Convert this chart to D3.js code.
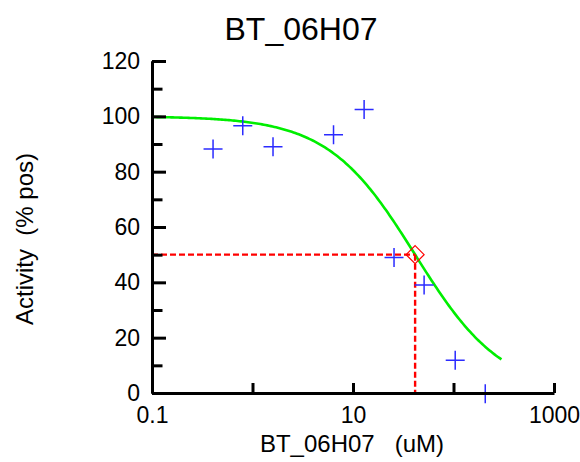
<!DOCTYPE html>
<html>
<head>
<meta charset="utf-8">
<script src="https://cdn.jsdelivr.net/npm/d3@7"></script>
<style>
  body { margin: 0; background: #fff; }
  svg { display: block; font-family: "Liberation Sans", Arial, sans-serif; }
</style>
</head>
<body>
<div id="chart"></div>
<script>
// measured doses (uM) and activity (% pos)
const doses = [0.405, 0.8, 1.6, 6.4, 12.9, 25.6, 51, 104, 207]
const activity = [88.2, 96.6, 89, 93.3, 102.5, 49, 39, 11.8, -0.3]

// fitted curve params
const fitTop = 100
const fitBottom = 0
const ic50 = 41.5
const hill = 1
const curveRange = [0.1, 300]

const xTicks = [0.1, 1, 10, 100, 1000]
const xTickLabels = ["0.1", "", "10", "", "1000"]
const yMajorTicks = [0, 20, 40, 60, 80, 100, 120]
const yMinorTicks = [10, 30, 50, 70, 90, 110]

const width = 580
const height = 462

const x = d3.scaleLog().domain([0.1, 1000]).range([152, 554])
const y = d3.scaleLinear().domain([0, 120]).range([393, 61])

const svg = d3.select("#chart").append("svg")
  .attr("width", width)
  .attr("height", height)

svg.append("rect").attr("width", width).attr("height", height).attr("fill", "#fff")

function hillFn(c) {
  return fitBottom + (fitTop - fitBottom) / (1 + Math.pow(c / ic50, hill))
}

// fitted curve
const curvePts = d3.range(0, 201).map(i => {
  const lc = Math.log10(curveRange[0]) + i / 200 * (Math.log10(curveRange[1]) - Math.log10(curveRange[0]))
  const c = Math.pow(10, lc)
  return [c, hillFn(c)]
})

svg.append("path")
  .datum(curvePts)
  .attr("fill", "none")
  .attr("stroke", "#00ee00")
  .attr("stroke-width", 2.6)
  .attr("d", d3.line().x(d => x(d[0])).y(d => y(d[1])))

// IC50 guide lines
const dash = svg.append("g")
  .attr("stroke", "#ff0000")
  .attr("stroke-width", 2.4)
  .attr("stroke-dasharray", "6,3")
  .attr("fill", "none")

dash.append("line")
  .attr("x1", x(0.1)).attr("x2", x(ic50))
  .attr("y1", y(50)).attr("y2", y(50))
dash.append("line")
  .attr("x1", x(ic50)).attr("x2", x(ic50))
  .attr("y1", y(50)).attr("y2", y(0))

// data points as crosses
const pts = doses.map((d, i) => ({ dose: d, act: activity[i] }))
const cs = 9.5
svg.append("g")
  .attr("stroke", "#2b2bff")
  .attr("stroke-width", 1.5)
  .selectAll("path")
  .data(pts)
  .enter().append("path")
    .attr("d", d => {
      const px = x(d.dose), py = y(d.act)
      return `M${px - cs},${py}H${px + cs}M${px},${py - cs}V${py + cs}`
    })

// IC50 diamond
const ds = 9
svg.append("path")
  .attr("fill", "none")
  .attr("stroke", "#ff0000")
  .attr("stroke-width", 1.2)
  .attr("d", () => {
    const px = x(ic50), py = y(50)
    return `M${px},${py - ds}L${px + ds},${py}L${px},${py + ds}L${px - ds},${py}Z`
  })

// axes
const xAxis = d3.axisBottom(x)
  .tickValues(xTicks)
  .tickFormat((d, i) => xTickLabels[i])
  .tickSizeInner(-10)
  .tickSizeOuter(0)
  .tickPadding(14)

const gx = svg.append("g")
  .attr("transform", `translate(0,${y(0)})`)
  .call(xAxis)

const yMinor = d3.axisLeft(y)
  .tickValues(yMinorTicks)
  .tickFormat("")
  .tickSizeInner(-10.5)
  .tickSizeOuter(0)

const yMajor = d3.axisLeft(y)
  .tickValues(yMajorTicks)
  .tickFormat(d3.format("d"))
  .tickSizeInner(-14)
  .tickSizeOuter(0)
  .tickPadding(12)

const gy1 = svg.append("g").attr("transform", `translate(${x(0.1)},0)`).call(yMinor)
const gy2 = svg.append("g").attr("transform", `translate(${x(0.1)},0)`).call(yMajor)

svg.selectAll(".domain").attr("stroke", "#000").attr("stroke-width", 3)
svg.selectAll(".tick line").attr("stroke", "#000").attr("stroke-width", 3)
svg.selectAll(".tick text")
  .attr("fill", "#000")
  .attr("font-size", 23)
  .attr("font-family", "Liberation Sans, Arial, sans-serif")

// title and axis labels
svg.append("text")
  .attr("x", 301).attr("y", 40)
  .attr("text-anchor", "middle")
  .attr("font-size", 32)
  .text("BT_06H07")

svg.append("text")
  .attr("x", 352).attr("y", 452)
  .attr("text-anchor", "middle")
  .attr("font-size", 24)
  .style("white-space", "pre")
  .text("BT_06H07   (uM)")

svg.append("text")
  .attr("transform", "translate(33,239) rotate(-90)")
  .attr("text-anchor", "middle")
  .attr("font-size", 24)
  .style("white-space", "pre")
  .text("Activity  (% pos)")
</script>
</body>
</html>
